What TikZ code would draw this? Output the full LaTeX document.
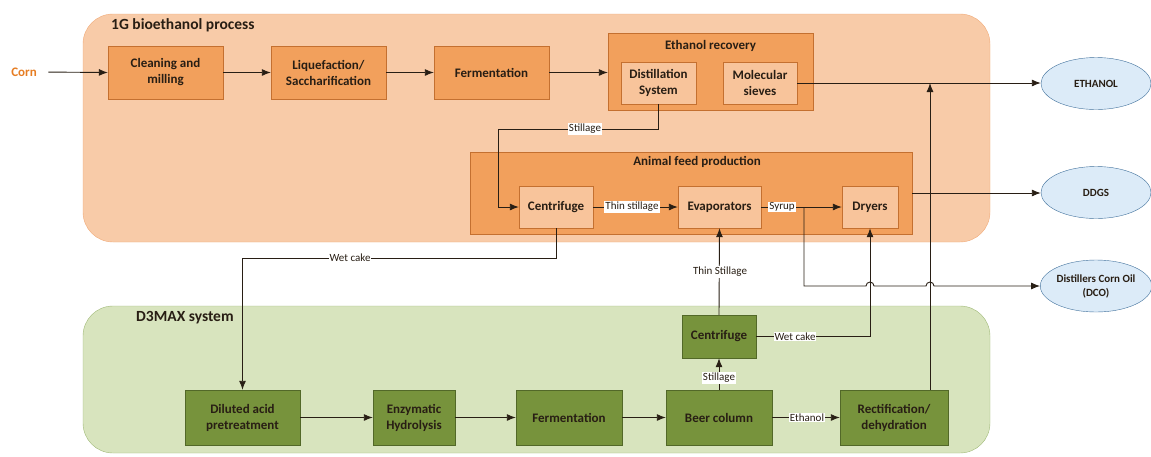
\documentclass[tikz,border=0pt]{standalone}
\usepackage{fontspec}
\setmainfont{Carlito}
\usetikzlibrary{shapes.geometric,arrows.meta,calc}

\definecolor{peach}{RGB}{248,203,168}
\definecolor{peachline}{RGB}{240,170,120}
\definecolor{orbox}{RGB}{242,160,92}
\definecolor{orline}{RGB}{196,112,48}
\definecolor{orlight}{RGB}{248,196,155}
\definecolor{sage}{RGB}{216,228,190}
\definecolor{sageline}{RGB}{160,185,120}
\definecolor{grbox}{RGB}{119,147,60}
\definecolor{grline}{RGB}{82,104,40}
\definecolor{sky}{RGB}{220,235,248}
\definecolor{skyline}{RGB}{65,113,156}
\definecolor{corncol}{RGB}{230,125,35}
\definecolor{ink}{RGB}{40,30,20}

\begin{document}
\begin{tikzpicture}[x=1pt, y=-1pt, node distance=163pt,
  obox/.style={draw=orline, fill=orbox, text=ink, align=center, inner sep=2pt,
    font=\fontsize{13}{16}\selectfont\bfseries, minimum width=115, minimum height=53},
  unitbox/.style={draw=orline, fill=orbox, inner sep=0pt},
  lbox/.style={draw=orline, fill=orlight, text=ink, align=center, inner sep=2pt,
    font=\fontsize{13}{16}\selectfont\bfseries, minimum height=42},
  gbox/.style={draw=grline, fill=grbox, text=ink, align=center, inner sep=2pt,
    font=\fontsize{13}{16}\selectfont\bfseries, minimum height=55},
  product/.style={ellipse, draw=skyline, fill=sky, text=ink, align=center, inner sep=0pt,
    font=\fontsize{11}{14}\selectfont\bfseries, minimum width=110, minimum height=52},
  title/.style={anchor=west, inner sep=0pt, text=ink, font=\fontsize{15.5}{18}\selectfont\bfseries},
  subtitle/.style={inner sep=0pt, text=ink, font=\fontsize{13}{16}\selectfont\bfseries},
  lbl/.style={fill=white, inner sep=1pt, text=ink, font=\fontsize{11}{13}\selectfont},
  flow/.style={draw=ink, line width=0.9pt, arrows=-{Latex[length=9pt, width=7pt]}}]
\useasboundingbox (0,0) rectangle (1151,456);

% the two plant areas
\draw[draw=peachline, fill=peach, rounded corners=30] (83,14) rectangle (990,242);
\draw[draw=sageline, fill=sage, rounded corners=30] (83,306) rectangle (990,453);
\node (t1)[title] at (111,25) {1G bioethanol process};
\node (t2)[title] at (136,318) {D3MAX system};

% 1G line
\node (corn)[text=corncol, font=\fontsize{13}{16}\selectfont\bfseries] at (24,72) {Corn};
\node (clean)[obox] at (165.5,72.5) {Cleaning and\\milling};
\node (liq)[obox, right of=clean] {Liquefaction/\\Saccharification};
\node (ferm)[obox, right of=liq] {Fermentation};

\node (recov)[unitbox, minimum width=205, minimum height=77] at (710.5,71.5) {};
\node (trecov)[subtitle] at (710.5,46) {Ethanol recovery};
\node (distil)[lbox, minimum width=75] at (658.5,83) {Distillation\\System};
\node (sieves)[lbox, minimum width=74] at (760,83) {Molecular\\sieves};

\node (feed)[unitbox, minimum width=442, minimum height=82] at (691,193) {};
\node (tfeed)[subtitle] at (697,162) {Animal feed production};
\node (cent1)[lbox, minimum width=74] at (556,207) {Centrifuge};
\node (evap)[lbox, minimum width=83] at (719.5,207) {Evaporators};
\node (dryers)[lbox, minimum width=56] at (870,207) {Dryers};

% products
\node (eth)[product] at (1096,83.5) {ETHANOL};
\node (ddgs)[product] at (1096,192.5) {DDGS};
\node (dco)[product] at (1096,286) {Distillers Corn Oil\\(DCO)};

% D3MAX line
\node (dil)[gbox, minimum width=115] at (242.5,417.5) {Diluted acid\\pretreatment};
\node (enz)[gbox, minimum width=82] at (414,417.5) {Enzymatic\\Hydrolysis};
\node (ferm2)[gbox, minimum width=106] at (569,417.5) {Fermentation};
\node (beer)[gbox, minimum width=106] at (719,417.5) {Beer column};
\node (rect)[gbox, minimum width=108] at (894,417.5) {Rectification/\\dehydration};
\node (cent2)[gbox, minimum width=74, minimum height=43] at (719,336.5) {Centrifuge};

\coordinate (s1) at (498,129);
\coordinate (w1) at (242.5,258);
\coordinate (j1) at (930,83);
\coordinate (j2) at (804,207);

% streams
\draw[flow, shorten <=8pt] (corn.east) -- (clean.west);
\draw[flow] (clean) -- (liq);
\draw[flow] (liq) -- (ferm);
\draw[flow] (ferm.east) -- (ferm.east -| recov.west);
\draw[flow] (sieves.east) -- (sieves.east -| eth.west);
\draw[flow] (rect.north -| j1) -- (j1);
\draw[flow] (distil.south) |- (s1) |- (cent1.west);
\draw[flow] (cent1) -- (evap);
\draw[flow] (evap) -- (dryers);
\draw[flow] (j2) -- (j2 |- dco.west) -- ($(dryers.south |- dco.west)+(-4,0)$)
  arc[start angle=180, end angle=0, radius=4pt] -- ($(j1 |- dco.west)+(-4,0)$)
  arc[start angle=180, end angle=0, radius=4pt] -- (dco.west);
\draw[flow] (feed.east) -- (feed.east -| ddgs.west);
\draw[flow] (cent1.south) |- (w1) -- (dil.north);
\draw[flow] (cent2.north) -- (evap.south);
\draw[flow] (cent2.east) -| (dryers.south);
\draw[flow] (beer.north) -- (cent2.south);
\draw[flow] (dil) -- (enz);
\draw[flow] (enz) -- (ferm2);
\draw[flow] (ferm2) -- (beer);
\draw[flow] (beer) -- (rect);

% stream labels
\node (lstill1)[lbl] at (585,129) {Stillage};
\node (lthin1)[lbl] at (632,207) {Thin stillage};
\node (lsyrup)[lbl] at (782,207) {Syrup};
\node (lwet1)[lbl] at (350,258) {Wet cake};
\node (lthin2)[lbl] at (720,272) {Thin Stillage};
\node (lwet2)[lbl] at (795,336.5) {Wet cake};
\node (lstill2)[lbl] at (719,378) {Stillage};
\node (leth)[lbl] at (807,417.5) {Ethanol};
\end{tikzpicture}
\end{document}
